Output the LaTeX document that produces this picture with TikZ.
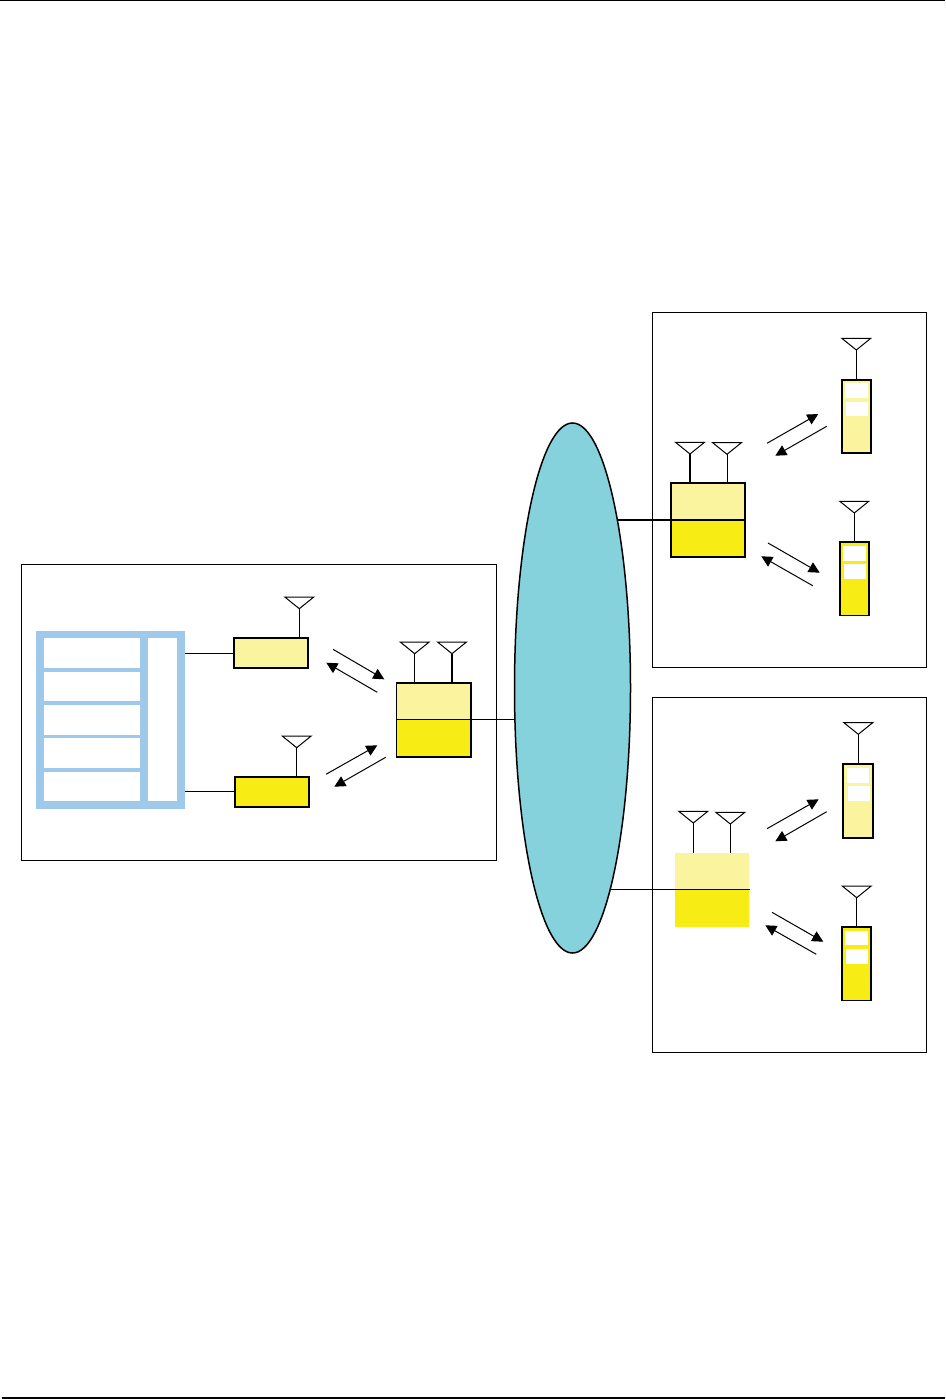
\documentclass[tikz,border=0pt]{standalone}
\usetikzlibrary{arrows.meta,shapes.geometric,calc}
\definecolor{pale}{HTML}{FBF49F}
\definecolor{gold}{HTML}{F7EC13}
\definecolor{sky}{HTML}{9FC9EB}
\definecolor{teal2}{HTML}{85D2DD}
\pgfdeclarelayer{front}
\pgfsetlayers{main,front}
\tikzset{
  x=1pt,y=-1pt,
  frame/.style={draw=black,line width=1pt,fill=none,rectangle,inner sep=0pt,outer sep=0pt},
  block/.style={draw=black,line width=1.7pt,rectangle,inner sep=0pt,outer sep=0pt},
  plain/.style={rectangle,inner sep=0pt,outer sep=0pt},
  whitecell/.style={fill=white,rectangle,inner sep=0pt,outer sep=0pt},
  wire/.style={draw=black,line width=1pt},
  thickwire/.style={draw=black,line width=1.7pt},
  aerial/.style={draw=black,line width=1pt,line join=miter,fill=white},
  link/.style={draw=black,line width=1pt,-{Triangle[length=11pt,width=11pt]}},
}
% box by corners: name, x1, y1, x2, y2, style
\newcommand{\boxat}[6]{\node[#6,minimum width=#4pt-#2pt,minimum height=#5pt-#3pt,anchor=north west] (#1) at (#2,#3) {};}
% aerial: name, apex x, apex y
\newcommand{\aerialat}[3]{%
  \coordinate (#1) at (#2,#3);
  \draw[aerial] ($(#1)+(-14.5,-11.7)$) -- ($(#1)+(14.5,-11.7)$) -- (#1) -- cycle;}
\begin{document}
\begin{tikzpicture}
\useasboundingbox (0,0) rectangle (945,1399);
% page rules
\coordinate (tl) at (0,0.5); \coordinate (tr) at (945,0.5);
\coordinate (bl) at (2,1397.9); \coordinate (br) at (945,1397.9);
\draw[line width=1.2pt] (tl) -- (tr);
\draw[line width=2pt] (bl) -- (br);
% frames
\boxat{left}{21.5}{564.5}{496.5}{860}{frame}
\boxat{top}{652.5}{312.5}{926.5}{667.3}{frame}
\boxat{bot}{652.5}{697.5}{926.5}{1052}{frame}
% network, kept above the lines that end behind it
\begin{pgfonlayer}{front}
\node[ellipse,draw=black,line width=1.5pt,fill=teal2,minimum width=116pt,minimum height=530pt,inner sep=0pt,outer sep=0pt] (net) at (572.5,688) {};
\end{pgfonlayer}
% data panel
\boxat{panel}{36}{631}{185}{809}{plain,fill=sky}
\boxat{c1}{44}{638}{140}{668}{whitecell}
\boxat{c2}{44}{672}{140}{701}{whitecell}
\boxat{c3}{44}{705}{140}{735}{whitecell}
\boxat{c4}{44}{738}{140}{768}{whitecell}
\boxat{c5}{44}{772}{140}{801}{whitecell}
\boxat{c6}{148}{638}{177}{801}{whitecell}
% left small units
\boxat{ua}{233.9}{637.9}{308.1}{668.1}{block,fill=pale}
\boxat{ub}{234.9}{776.9}{309.1}{807.1}{block,fill=gold}
\coordinate (pa) at (185,653.3); \coordinate (pb) at (185,791.3);
\draw[wire] (pa) -- (pa -| ua.west);
\draw[wire] (pb) -- (pb -| ub.west);
\aerialat{aa}{299.3}{608.7}
\aerialat{ab}{296.7}{747.7}
\draw[wire] (aa) -- (aa |- ua.north);
\draw[wire] (ab) -- (ab |- ub.north);
% left base station
\boxat{bsLa}{396.5}{683}{471}{719.7}{plain,fill=pale}
\boxat{bsLb}{396.5}{719.7}{471}{756.7}{plain,fill=gold}
\boxat{bsL}{396.5}{683}{471}{756.7}{block}
\draw[line width=1.5pt] (bsLa.south west) -- (bsLa.south east);
\aerialat{a1}{414.7}{653.7}
\aerialat{a2}{452}{653.7}
\draw[wire] (a1) -- (a1 |- bsL.north);
\draw[thickwire] (a2) -- (a2 |- bsL.north);
\draw[wire] (bsLa.south east) -- (bsLa.south -| net.center);
% top base station
\boxat{bsTa}{671.3}{483}{745}{520}{plain,fill=pale}
\boxat{bsTb}{671.3}{520}{745}{556.7}{plain,fill=gold}
\boxat{bsT}{671.3}{483}{745}{556.7}{block}
\draw[line width=1.5pt] (bsTa.south west) -- (bsTa.south east);
\aerialat{a3}{690}{454}
\aerialat{a4}{727}{454.3}
\draw[thickwire] (a3) -- (a3 |- bsT.north);
\draw[wire] (a4) -- (a4 |- bsT.north);
\draw[thickwire] (bsTa.south west) -- (bsTa.south -| net.center);
% bottom base station
\boxat{bsBa}{675}{853}{749}{889.3}{plain,fill=pale}
\boxat{bsBb}{675}{889.3}{749}{926.7}{plain,fill=gold}
\aerialat{a5}{693.3}{823}
\aerialat{a6}{730.3}{824}
\draw[wire] (a5) -- (a5 |- bsBa.north);
\draw[wire] (a6) -- (a6 |- bsBa.north);
\coordinate (bsBend) at (750,889.3);
\draw[wire] (bsBend) -- (bsBend -| net.center);
% phones
\boxat{p1}{842.2}{379.8}{870.8}{452.8}{block,fill=pale}
\boxat{p1a}{845}{383.3}{868}{398}{whitecell}
\boxat{p1b}{845.7}{402}{868}{416}{whitecell}
\aerialat{a7}{856.3}{350}
\draw[wire] (a7) -- (a7 |- p1.north);
\boxat{p2}{840.2}{541.8}{868.8}{615.5}{block,fill=gold}
\boxat{p2a}{843}{546}{866}{560.7}{whitecell}
\boxat{p2b}{844}{564}{866}{578.7}{whitecell}
\aerialat{a8}{854.3}{513}
\draw[wire] (a8) -- (a8 |- p2.north);
\boxat{p3}{843.2}{764.2}{872.8}{837.8}{block,fill=pale}
\boxat{p3a}{847}{768.3}{869}{783}{whitecell}
\boxat{p3b}{848}{786.3}{870}{801}{whitecell}
\aerialat{a9}{858.3}{734.3}
\draw[wire] (a9) -- (a9 |- p3.north);
\boxat{p4}{842.2}{926.8}{871.2}{1000.5}{block,fill=gold}
\boxat{p4a}{845}{931}{868}{945}{whitecell}
\boxat{p4b}{846}{949}{868}{963.7}{whitecell}
\aerialat{a10}{856.7}{897.7}
\draw[wire] (a10) -- (a10 |- p4.north);
% radio links
\foreach \n/\xa/\ya/\xb/\yb in {
  l1/333/649.3/384.3/679.3, l2/377.3/692.3/326.3/662.7,
  l3/326/774.3/377.3/745.3, l4/385.7/757.3/334.3/786.7,
  t1/767/443.3/818.3/414, t2/826.7/426.3/775.3/455.7,
  t3/768/543/819.7/572.7, t4/812.7/585.7/761.3/556.3,
  b1/767/828.7/818.7/799.3, b2/826.7/811.7/775.3/841.3,
  b3/772/912.3/823.3/941.7, b4/816.3/954.3/765.3/925.3}{
  \coordinate (\n s) at (\xa,\ya);
  \coordinate (\n e) at (\xb,\yb);
  \draw[link] (\n s) -- (\n e);
}
\end{tikzpicture}
\end{document}
